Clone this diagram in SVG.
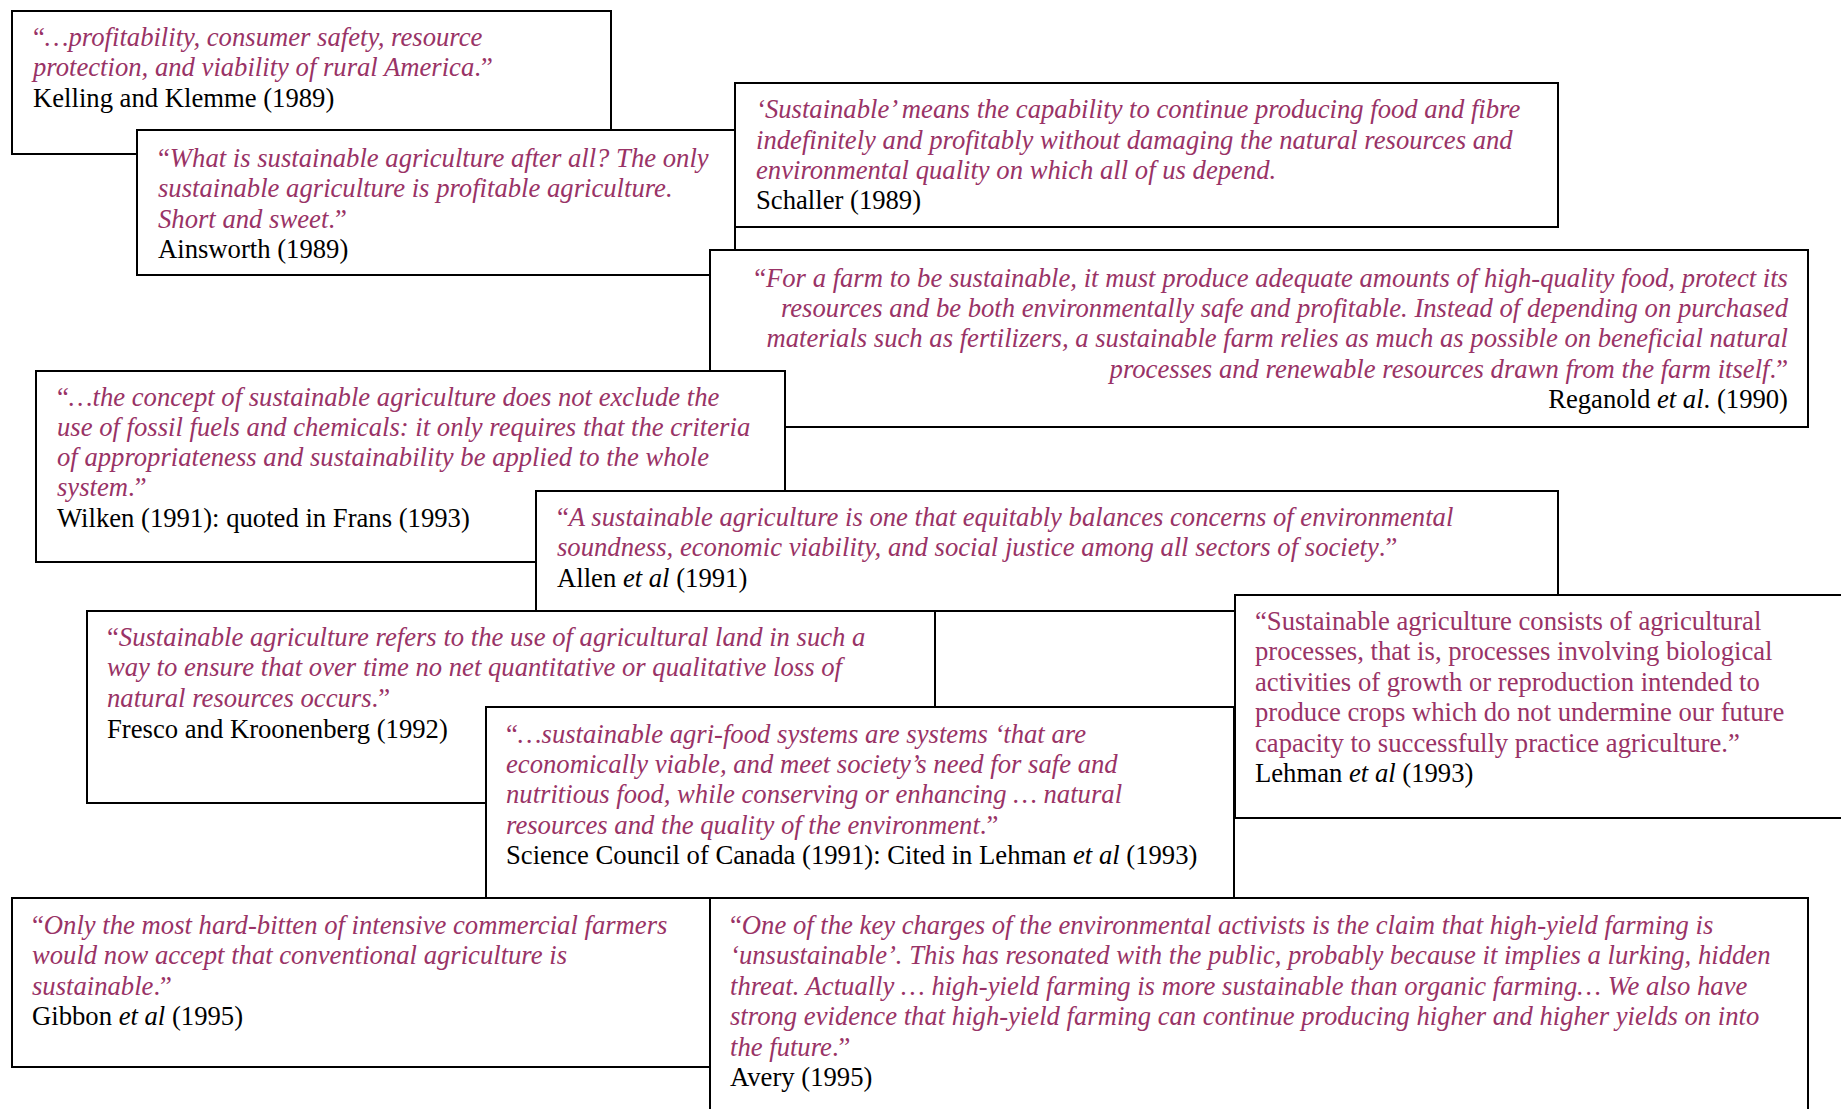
<svg xmlns="http://www.w3.org/2000/svg" width="1841" height="1109" viewBox="0 0 1841 1109">
<style>
.box{fill:#fff;stroke:#000;stroke-width:2}
text{font-family:"Liberation Serif","Times New Roman",serif;font-size:26.67px;fill:#000}
.q{font-style:italic;fill:#993366}
.u{font-style:normal;fill:#993366}
.i{font-style:italic}
</style>
<rect width="1841" height="1109" fill="#fff"/>
<g id="kelling">
<rect class="box" x="12" y="11" width="599" height="143"/>
<text x="33" y="46"><tspan class="u">“</tspan><tspan class="q">…profitability, consumer safety, resource</tspan></text>
<text x="33" y="76"><tspan class="q">protection, and viability of rural America</tspan><tspan class="u">.”</tspan></text>
<text x="33" y="107">Kelling and Klemme (1989)</text>
</g>
<g id="ainsworth">
<rect class="box" x="137" y="130" width="598" height="145"/>
<text x="158" y="167"><tspan class="u">“</tspan><tspan class="q">What is sustainable agriculture after all? The only</tspan></text>
<text x="158" y="197"><tspan class="q">sustainable agriculture is profitable agriculture.</tspan></text>
<text x="158" y="228"><tspan class="q">Short and sweet</tspan><tspan class="u">.”</tspan></text>
<text x="158" y="258">Ainsworth (1989)</text>
</g>
<g id="schaller">
<rect class="box" x="735" y="83" width="823" height="144"/>
<text x="756" y="118" class="q">‘Sustainable’ means the capability to continue producing food and fibre</text>
<text x="756" y="149" class="q">indefinitely and profitably without damaging the natural resources and</text>
<text x="756" y="179" class="q">environmental quality on which all of us depend.</text>
<text x="756" y="209">Schaller (1989)</text>
</g>
<g id="reganold">
<rect class="box" x="710" y="250" width="1098" height="177"/>
<text x="1788" y="287" text-anchor="end"><tspan class="u">“</tspan><tspan class="q">For a farm to be sustainable, it must produce adequate amounts of high-quality food, protect its</tspan></text>
<text x="1788" y="317" text-anchor="end" class="q">resources and be both environmentally safe and profitable. Instead of depending on purchased</text>
<text x="1788" y="347" text-anchor="end" class="q">materials such as fertilizers, a sustainable farm relies as much as possible on beneficial natural</text>
<text x="1788" y="378" text-anchor="end"><tspan class="q">processes and renewable resources drawn from the farm itself</tspan><tspan class="u">.”</tspan></text>
<text x="1788" y="408" text-anchor="end">Reganold <tspan class="i">et al</tspan>. (1990)</text>
</g>
<g id="wilken">
<rect class="box" x="36" y="371" width="749" height="191"/>
<text x="57" y="406"><tspan class="u">“</tspan><tspan class="q">…the concept of sustainable agriculture does not exclude the</tspan></text>
<text x="57" y="436" class="q">use of fossil fuels and chemicals: it only requires that the criteria</text>
<text x="57" y="466" class="q">of appropriateness and sustainability be applied to the whole</text>
<text x="57" y="496"><tspan class="q">system</tspan><tspan class="u">.”</tspan></text>
<text x="57" y="527">Wilken (1991): quoted in Frans (1993)</text>
</g>
<g id="allen">
<rect class="box" x="536" y="491" width="1022" height="120"/>
<text x="557" y="526"><tspan class="u">“</tspan><tspan class="q">A sustainable agriculture is one that equitably balances concerns of environmental</tspan></text>
<text x="557" y="556"><tspan class="q">soundness, economic viability, and social justice among all sectors of society</tspan><tspan class="u">.”</tspan></text>
<text x="557" y="587">Allen <tspan class="i">et al</tspan> (1991)</text>
</g>
<g id="fresco">
<rect class="box" x="87" y="611" width="848" height="192"/>
<text x="107" y="646"><tspan class="u">“</tspan><tspan class="q">Sustainable agriculture refers to the use of agricultural land in such a</tspan></text>
<text x="107" y="676" class="q">way to ensure that over time no net quantitative or qualitative loss of</text>
<text x="107" y="707"><tspan class="q">natural resources occurs</tspan><tspan class="u">.”</tspan></text>
<text x="107" y="738">Fresco and Kroonenberg (1992)</text>
</g>
<g id="lehman">
<rect class="box" x="1235" y="595" width="620" height="223"/>
<text x="1255" y="630" class="u">“Sustainable agriculture consists of agricultural</text>
<text x="1255" y="660" class="u">processes, that is, processes involving biological</text>
<text x="1255" y="691" class="u">activities of growth or reproduction intended to</text>
<text x="1255" y="721" class="u">produce crops which do not undermine our future</text>
<text x="1255" y="752" class="u">capacity to successfully practice agriculture.”</text>
<text x="1255" y="782">Lehman <tspan class="i">et al</tspan> (1993)</text>
</g>
<g id="science-council">
<rect class="box" x="486" y="707" width="748" height="191"/>
<text x="506" y="743"><tspan class="u">“</tspan><tspan class="q">…sustainable agri-food systems are systems ‘that are</tspan></text>
<text x="506" y="773" class="q">economically viable, and meet society’s need for safe and</text>
<text x="506" y="803" class="q">nutritious food, while conserving or enhancing … natural</text>
<text x="506" y="834"><tspan class="q">resources and the quality of the environment</tspan><tspan class="u">.”</tspan></text>
<text x="506" y="864">Science Council of Canada (1991): Cited in Lehman <tspan class="i">et al</tspan> (1993)</text>
</g>
<g id="gibbon">
<rect class="box" x="12" y="898" width="698" height="169"/>
<text x="32" y="934"><tspan class="u">“</tspan><tspan class="q">Only the most hard-bitten of intensive commercial farmers</tspan></text>
<text x="32" y="964" class="q">would now accept that conventional agriculture is</text>
<text x="32" y="995"><tspan class="q">sustainable</tspan><tspan class="u">.”</tspan></text>
<text x="32" y="1025">Gibbon <tspan class="i">et al</tspan> (1995)</text>
</g>
<g id="avery">
<rect class="box" x="710" y="898" width="1098" height="230"/>
<text x="730" y="934"><tspan class="u">“</tspan><tspan class="q">One of the key charges of the environmental activists is the claim that high-yield farming is</tspan></text>
<text x="730" y="964" class="q">‘unsustainable’. This has resonated with the public, probably because it implies a lurking, hidden</text>
<text x="730" y="995" class="q">threat. Actually … high-yield farming is more sustainable than organic farming… We also have</text>
<text x="730" y="1025" class="q">strong evidence that high-yield farming can continue producing higher and higher yields on into</text>
<text x="730" y="1056"><tspan class="q">the future</tspan><tspan class="u">.”</tspan></text>
<text x="730" y="1086">Avery (1995)</text>
</g>
<g id="connectors"/>
</svg>
